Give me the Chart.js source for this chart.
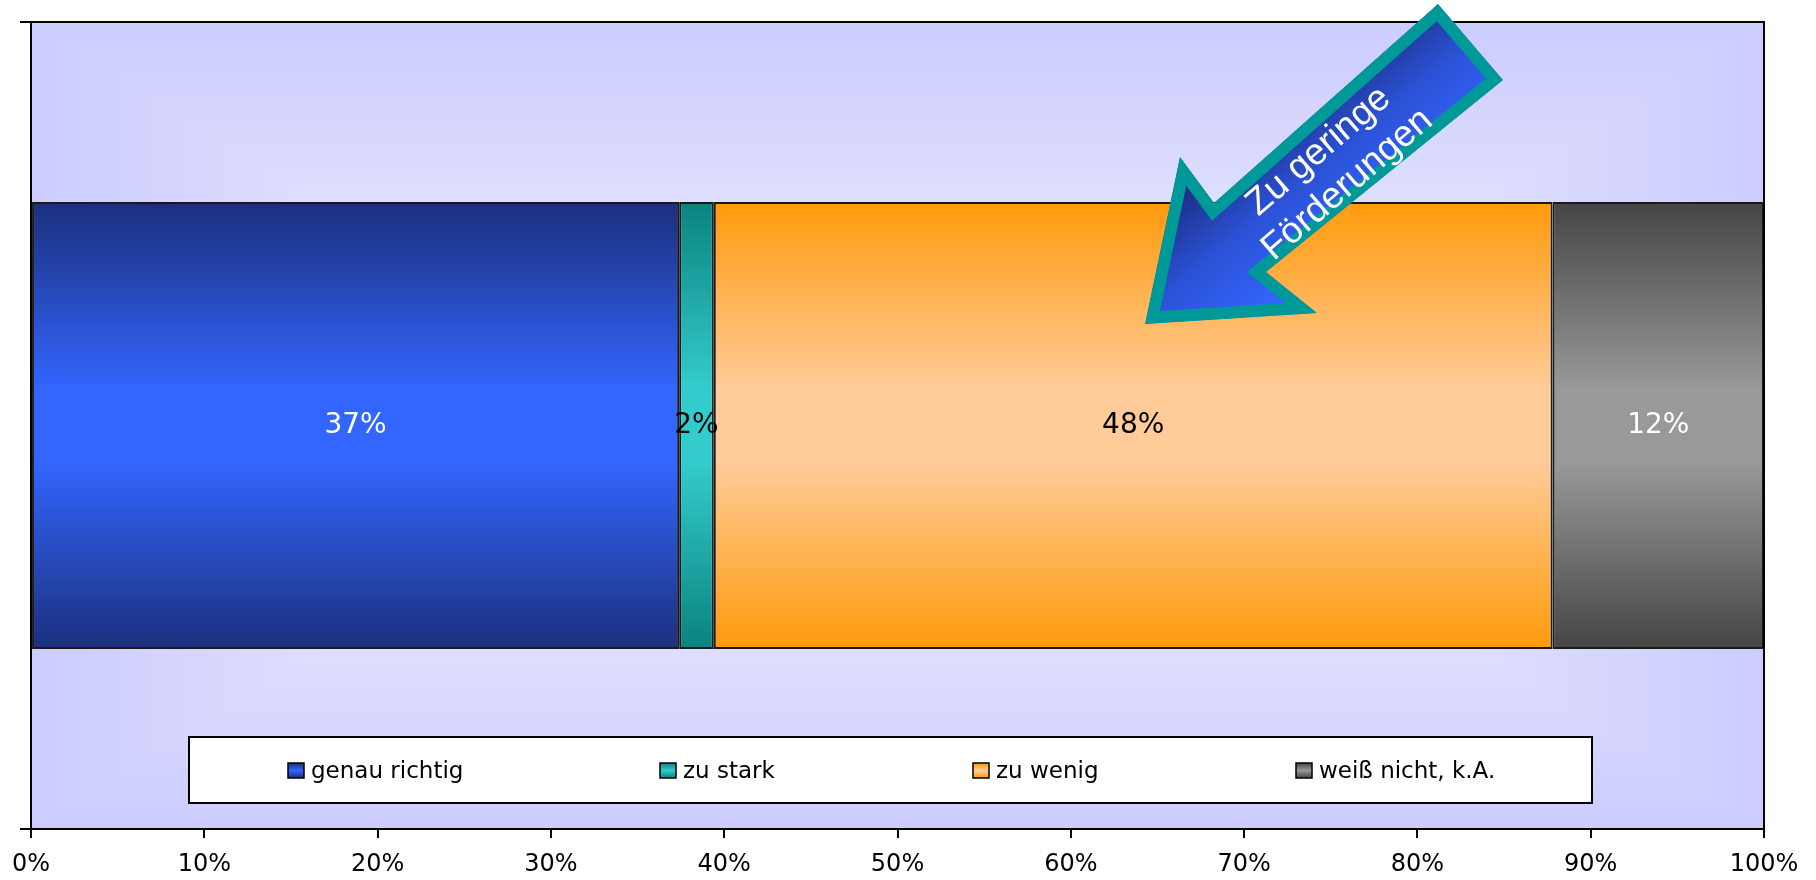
<!DOCTYPE html>
<html>
<head>
<meta charset="utf-8">
<script src="https://cdn.jsdelivr.net/npm/chart.js@4/dist/chart.umd.min.js"></script>
<style>
  body { margin: 0; background: #fff; }
  #wrap { width: 1816px; height: 880px; position: relative; }
</style>
</head>
<body>
<div id="wrap"><canvas id="myChart"></canvas></div>
<script>
// daten
const categories = [''];
const seriesLabels = ['genau richtig', 'zu stark', 'zu wenig', 'weiß nicht, k.A.'];
const seriesValues = [37.4, 2.0, 48.4, 12.2];
const valueLabels = ['37%', '2%', '48%', '12%'];
const tickLabels = ['0%', '10%', '20%', '30%', '40%', '50%', '60%', '70%', '80%', '90%', '100%'];
const arrowText = ['Zu geringe', 'Förderungen'];

// farben
const edgeColors = ['#1b2f7c', '#0a837f', '#ff9a0c', '#454545'];
const midColors = ['#3366ff', '#33cccc', '#ffcc99', '#999999'];
const labelColors = ['#ffffff', '#000000', '#000000', '#ffffff'];
const BAR_PCT = 0.554;

function barGradient(i) {
    return function (ctx) {
        const chart = ctx.chart;
        const area = chart.chartArea;
        if (!area) return midColors[i];
        const y = chart.scales.y;
        const c = y.getPixelForValue(0);
        const half = (area.bottom - area.top) * BAR_PCT / 2;
        const g = chart.ctx.createLinearGradient(0, c - half, 0, c + half);
        g.addColorStop(0, edgeColors[i]);
        g.addColorStop(0.42, midColors[i]);
        g.addColorStop(0.58, midColors[i]);
        g.addColorStop(1, edgeColors[i]);
        return g;
    };
}

// hintergrund der zeichenfläche (rechteckiger verlauf von der mitte)
const plotBackground = {
    id: 'plotBackground',
    beforeDraw(chart) {
        const { ctx, chartArea: a } = chart;
        const w = a.right - a.left, h = a.bottom - a.top;
        const edge = [204, 204, 255], center = [246, 246, 252];
        const N = 80;
        ctx.save();
        for (let k = 0; k <= N; k++) {
            const t = k / N;
            const dx = t * 650, dy = t * h / 2;
            const c = edge.map((e, j) => Math.round(e + (center[j] - e) * t));
            ctx.fillStyle = 'rgb(' + c.join(',') + ')';
            ctx.fillRect(a.left + dx, a.top + dy, w - 2 * dx, h - 2 * dy);
        }
        ctx.restore();
    },
    afterDatasetsDraw(chart) {
        const { ctx, chartArea: a } = chart;
        ctx.save();
        ctx.strokeStyle = '#000';
        ctx.lineWidth = 2;
        ctx.beginPath();
        ctx.moveTo(a.left, a.top);
        ctx.lineTo(a.right, a.top);
        ctx.lineTo(a.right, a.bottom);
        ctx.stroke();
        ctx.restore();
    }
};

// beschriftung der balken
const barLabels = {
    id: 'barLabels',
    afterDatasetsDraw(chart) {
        const ctx = chart.ctx;
        ctx.save();
        ctx.font = '28px "DejaVu Sans"';
        ctx.textAlign = 'center';
        ctx.textBaseline = 'middle';
        chart.data.datasets.forEach((ds, i) => {
            const bar = chart.getDatasetMeta(i).data[0];
            ctx.fillStyle = labelColors[i];
            ctx.fillText(valueLabels[i], (bar.x + bar.base) / 2, bar.y);
        });
        ctx.restore();
    }
};

// legende im diagramm
const innerLegend = {
    id: 'innerLegend',
    afterDraw(chart) {
        const ctx = chart.ctx;
        const box = { x: 189, y: 737, w: 1403, h: 66 };
        const starts = [288, 660, 973, 1296];
        ctx.save();
        ctx.fillStyle = '#fff';
        ctx.fillRect(box.x, box.y, box.w, box.h);
        ctx.strokeStyle = '#000';
        ctx.lineWidth = 2;
        ctx.strokeRect(box.x, box.y, box.w, box.h);
        ctx.font = '23px "DejaVu Sans"';
        ctx.textBaseline = 'middle';
        const cy = 770;
        seriesLabels.forEach((lbl, i) => {
            const sx = starts[i];
            const g = ctx.createLinearGradient(0, cy - 7, 0, cy + 8);
            g.addColorStop(0, edgeColors[i]);
            g.addColorStop(0.5, midColors[i]);
            g.addColorStop(1, edgeColors[i]);
            ctx.fillStyle = g;
            ctx.fillRect(sx, cy - 7, 16, 15);
            ctx.lineWidth = 1.5;
            ctx.strokeStyle = '#000';
            ctx.strokeRect(sx, cy - 7, 16, 15);
            ctx.fillStyle = '#000';
            ctx.fillText(lbl, sx + 23, cy + 2);
        });
        ctx.restore();
    }
};

// pfeil "Zu geringe Förderungen"
const arrowNote = {
    id: 'arrowNote',
    afterDraw(chart) {
        const ctx = chart.ctx;
        const pts = [[1145, 324], [1180, 157], [1214, 203], [1438, 4], [1503, 80], [1266, 272], [1317, 313]];
        ctx.save();
        ctx.beginPath();
        pts.forEach((p, i) => i ? ctx.lineTo(p[0], p[1]) : ctx.moveTo(p[0], p[1]));
        ctx.closePath();
        ctx.clip();
        const g = ctx.createLinearGradient(1225, 145, 1325, 265);
        g.addColorStop(0, '#1a2a7a');
        g.addColorStop(0.5, '#2b52d6');
        g.addColorStop(1, '#3366ff');
        ctx.fillStyle = g;
        ctx.fill();
        ctx.lineWidth = 24;
        ctx.lineJoin = 'miter';
        ctx.strokeStyle = '#009999';
        ctx.stroke();
        ctx.restore();

        ctx.save();
        ctx.translate(1333, 168);
        ctx.rotate(-40.7 * Math.PI / 180);
        ctx.fillStyle = '#fff';
        ctx.font = '37px "Liberation Sans"';
        ctx.textAlign = 'center';
        ctx.textBaseline = 'middle';
        ctx.fillText(arrowText[0], 0, -22);
        ctx.fillText(arrowText[1], 0, 22);
        ctx.restore();
    }
};

const datasets = seriesLabels.map((lbl, i) => ({
    label: lbl,
    data: [seriesValues[i]],
    backgroundColor: barGradient(i),
    borderColor: '#1a1a1a',
    borderWidth: 2,
    borderSkipped: false,
    barPercentage: BAR_PCT,
    categoryPercentage: 1
}));

const ctx = document.getElementById('myChart').getContext('2d');
const myChart = new Chart(ctx, {
    type: 'bar',
    data: { labels: categories, datasets: datasets },
    options: {
        indexAxis: 'y',
        responsive: true,
        maintainAspectRatio: false,
        animation: false,
        layout: { padding: { top: 22, right: 52, left: 0, bottom: 0 } },
        plugins: {
            legend: { display: false },
            tooltip: { enabled: false }
        },
        scales: {
            x: {
                stacked: true,
                min: 0,
                max: 100,
                afterFit(scale) { scale.height = 51; },
                border: { display: true, color: '#000', width: 2 },
                grid: { drawOnChartArea: false, drawTicks: true, tickLength: 9, color: '#000', lineWidth: 2 },
                ticks: {
                    stepSize: 10,
                    padding: 12,
                    color: '#000',
                    font: { family: 'DejaVu Sans', size: 24 },
                    callback: (v) => tickLabels[v / 10]
                }
            },
            y: {
                stacked: true,
                afterFit(scale) { scale.width = 29; },
                border: { display: true, color: '#000', width: 2 },
                grid: { offset: true, drawOnChartArea: false, drawTicks: true, tickLength: 11, color: '#000', lineWidth: 2 },
                ticks: { display: true, padding: 0 }
            }
        }
    },
    plugins: [plotBackground, barLabels, innerLegend, arrowNote]
});
</script>
</body>
</html>
